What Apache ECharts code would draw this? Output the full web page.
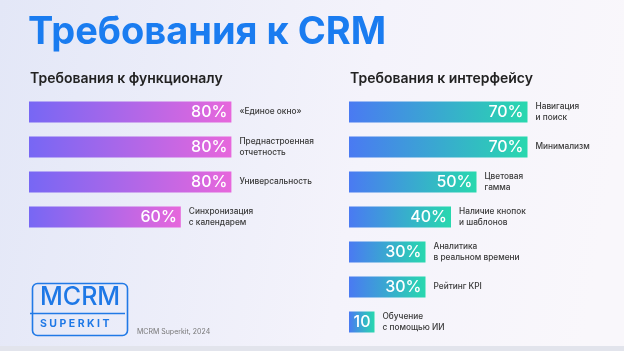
<!DOCTYPE html>
<html><head><meta charset="utf-8">
<script src="https://cdn.jsdelivr.net/npm/echarts@6/dist/echarts.min.js"></script>
<style>html,body{margin:0;padding:0;}#c{width:624px;height:351px;}</style>
</head><body><div id="c"></div>
<script>
const funcCategories = ['«Единое окно»', 'Преднастроенная\nотчетность', 'Универсальность', 'Синхронизация\nс календарем'];
const funcValues = [80, 80, 80, 60];
const funcLabels = ['80%', '80%', '80%', '60%'];
const uiCategories = ['Навигация\nи поиск', 'Минимализм', 'Цветовая\nгамма', 'Наличие кнопок\nи шаблонов', 'Аналитика\nв реальном времени', 'Рейтинг KPI', 'Обучение\nс помощью ИИ'];
const uiValues = [70, 70, 50, 40, 30, 30, 10];
const uiLabels = ['70%', '70%', '50%', '40%', '30%', '30%', '10'];

const FONT = 'Inter, "Noto Sans", sans-serif';
const chart = echarts.init(document.getElementById('c'), null, {renderer: 'canvas'});
const grad = (a, b) => new echarts.graphic.LinearGradient(0, 0, 1, 0, [{offset: 0, color: a}, {offset: 1, color: b}]);

function barSeries(idx, values, labels, c1, c2) {
  return {
    type: 'bar', xAxisIndex: idx, yAxisIndex: idx, data: values, barWidth: 21, z: 3,
    itemStyle: {color: grad(c1, c2)},
    label: {show: true, position: 'insideRight', distance: 4,
      formatter: p => labels[p.dataIndex],
      color: '#fff', fontFamily: FONT, fontSize: 16, fontWeight: 500},
    silent: true
  };
}
function nameSeries(idx, values, cats) {
  return {
    type: 'bar', xAxisIndex: idx, yAxisIndex: idx, data: values, barWidth: 21, barGap: '-100%', z: 2,
    itemStyle: {color: 'rgba(0,0,0,0)'},
    label: {show: true, position: 'right', distance: 8,
      formatter: p => cats[p.dataIndex],
      color: '#3a3a3a', fontFamily: FONT, fontSize: 8.3, fontWeight: 500, lineHeight: 11, align: 'left'},
    silent: true
  };
}

chart.setOption({
  animation: false,
  backgroundColor: new echarts.graphic.LinearGradient(0, 0, 1, 0.3, [{offset: 0, color: '#e3e7f7'}, {offset: 0.6, color: '#f4f3fb'}, {offset: 1, color: '#f9f7fb'}]),
  title: [
    {text: 'Требования к CRM', left: 28, top: 14, padding: 0, textStyle: {color: '#1a7cf0', fontFamily: FONT, fontSize: 38, fontWeight: 700}},
    {text: 'Требования к функционалу', left: 30, top: 72, padding: 0, textStyle: {color: '#222', fontFamily: FONT, fontSize: 14, fontWeight: 600}},
    {text: 'Требования к интерфейсу', left: 350, top: 72, padding: 0, textStyle: {color: '#222', fontFamily: FONT, fontSize: 14, fontWeight: 600}}
  ],
  grid: [
    {left: 29, top: 94.5, width: 253, height: 140},
    {left: 349, top: 94.5, width: 255, height: 245}
  ],
  xAxis: [
    {gridIndex: 0, type: 'value', min: 0, max: 100, show: false},
    {gridIndex: 1, type: 'value', min: 0, max: 100, show: false}
  ],
  yAxis: [
    {gridIndex: 0, type: 'category', data: funcCategories, inverse: true, show: false},
    {gridIndex: 1, type: 'category', data: uiCategories, inverse: true, show: false}
  ],
  series: [
    nameSeries(0, funcValues, funcCategories),
    barSeries(0, funcValues, funcLabels, '#7767f4', '#e767dc'),
    nameSeries(1, uiValues, uiCategories),
    barSeries(1, uiValues, uiLabels, '#4a7af2', '#28d8ae')
  ],
  graphic: [
    {type: 'rect', left: 0, top: 346, shape: {width: 624, height: 5}, style: {fill: '#e2e4ec'}, silent: true},
    {type: 'rect', left: 30, top: 281, shape: {width: 95, height: 52, r: 5}, style: {fill: 'none', stroke: '#2079e6', lineWidth: 1.6}, silent: true},
    {type: 'line', shape: {x1: 30, y1: 313.5, x2: 125, y2: 313.5}, style: {stroke: '#2079e6', lineWidth: 1.4}, silent: true},
    {type: 'text', left: 40, top: 285, style: {text: 'MCRM', fill: '#1e78e6', font: '500 25px ' + FONT}, silent: true},
    {type: 'text', left: 40, top: 318, style: {text: 'S U P E R K I T', fill: '#1e78e6', font: '700 10.5px ' + FONT}, silent: true},
    {type: 'text', left: 137, top: 328, style: {text: 'MCRM Superkit, 2024', fill: '#777', font: '400 7px ' + FONT}, silent: true}
  ]
});
</script></body></html>
